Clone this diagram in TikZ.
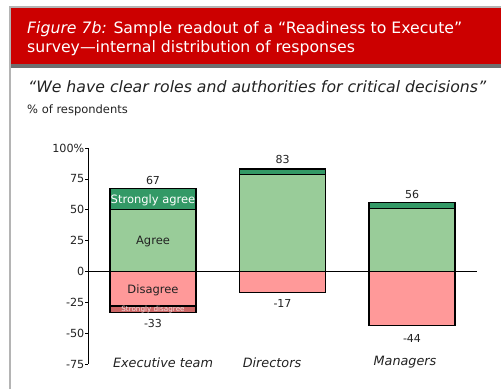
\documentclass[tikz,border=0pt]{standalone}
\usepackage{fontspec}
\setmainfont{DejaVu Sans}
\definecolor{hdrred}{HTML}{CC0000}
\definecolor{strip}{HTML}{6E6E6E}
\definecolor{frame}{HTML}{B4B4B4}
\definecolor{sagree}{HTML}{339966}
\definecolor{agree}{HTML}{99CC99}
\definecolor{disagree}{HTML}{FF9999}
\definecolor{sdisagree}{HTML}{CC6666}
\definecolor{txt}{HTML}{222222}
\tikzset{
  seg/.style={draw=black, line width=1.3pt},
  ticklbl/.style={anchor=east, font=\fontsize{11.2}{12}\selectfont, text=txt, inner sep=0pt},
  vallbl/.style={font=\fontsize{11}{12}\selectfont, text=txt, inner sep=0pt},
  catlbl/.style={font=\fontsize{12.8}{14}\selectfont\itshape, text=txt, inner sep=0pt},
  inlbl/.style={font=\fontsize{11.5}{13}\selectfont, inner sep=0pt},
}
\begin{document}
\begin{tikzpicture}[x=1pt,y=-1pt]
\useasboundingbox (0,0) rectangle (501,389);
\fill[white] (0,0) rectangle (501,389);
% frame
\draw[frame, line width=1.5pt] (10,389) -- (10,7) -- (501,7);
\fill[hdrred] (11,8) rectangle (501,64);
\fill[strip] (11,64) rectangle (501,68);
% header text
\node[anchor=west, text=white, inner sep=0pt, font=\fontsize{15.7}{19}\selectfont, align=left] (title) at (27,38.5)
  {\textit{Figure 7b:} Sample readout of a “Readiness to Execute”\\survey—internal distribution of responses};
\node[anchor=west, text=txt, inner sep=0pt, font=\fontsize{15.7}{17}\selectfont\itshape] (quote) at (28,87)
  {“We have clear roles and authorities for critical decisions”};
\node[anchor=west, text=txt, inner sep=0pt, font=\fontsize{11.5}{12}\selectfont] (unit) at (27,110) {\% of respondents};

\begin{scope}[shift={(0,271.5)}, yscale=-1.234]
  % bars: Executive team
  \draw[seg, fill=sagree] (110,50) rectangle (196,67);
  \draw[seg, fill=agree] (110,0) rectangle (196,50);
  \draw[seg, fill=disagree] (110,0) rectangle (196,-28);
  \draw[seg, fill=sdisagree] (110,-28) rectangle (196,-33);
  % Directors
  \draw[seg, fill=sagree] (239.5,78.5) rectangle (325.5,83);
  \draw[seg, fill=agree] (239.5,0) rectangle (325.5,78.5);
  \draw[seg, fill=disagree] (239.5,0) rectangle (325.5,-17);
  % Managers
  \draw[seg, fill=sagree] (369,51) rectangle (455,56);
  \draw[seg, fill=agree] (369,0) rectangle (455,51);
  \draw[seg, fill=disagree] (369,0) rectangle (455,-44);
  % axis
  \draw[black, line width=1.4pt] (88.3,100) -- (88.3,-75);
  \foreach \v/\t in {100/100\%,75/75,50/50,25/25,0/0,-25/-25,-50/-50,-75/-75}{
    \draw[black, line width=0.8pt] (85.3,\v) -- (88.3,\v);
    \node[ticklbl] (t\v) at (84.5,\v) {\t};
  }
  \draw[black, line width=1.2pt] (88.3,0) -- (477,0);
\end{scope}

% value labels
\node[vallbl] (v67) at (153,180) {67};
\node[vallbl] (v83) at (282.5,159.5) {83};
\node[vallbl] (v56) at (412,194) {56};
\node[vallbl] (vm33) at (153,323.5) {-33};
\node[vallbl] (vm17) at (282.5,303.5) {-17};
\node[vallbl] (vm44) at (412,338.5) {-44};
% in-bar labels
\node[inlbl, text=white] (lsa) at (153,200) {Strongly agree};
\node[inlbl, text=txt] (la) at (153,241.7) {Agree};
\node[inlbl, text=txt] (ld) at (153,290) {Disagree};
\node[inlbl, text=white!80!sdisagree, font=\fontsize{7.2}{8}\selectfont] (lsd) at (153,309.6) {Strongly disagree};
% category labels
\node[catlbl] (cexec) at (163,362.5) {Executive team};
\node[catlbl] (cdir) at (272,362.5) {Directors};
\node[catlbl] (cman) at (405,362.5) {Managers};
\end{tikzpicture}
\end{document}
